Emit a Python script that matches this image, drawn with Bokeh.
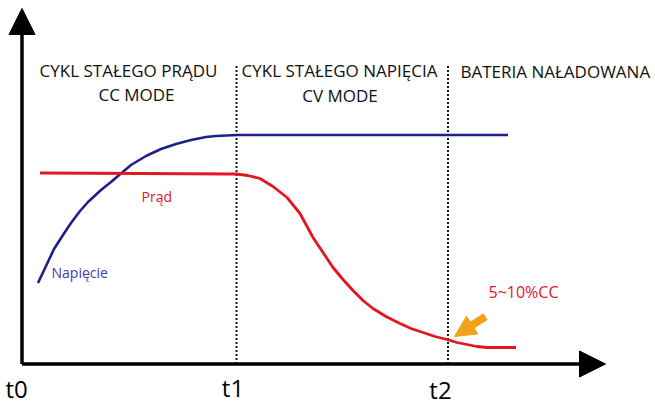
import numpy as np
from bokeh.plotting import figure
from bokeh.models import Range1d, Arrow, NormalHead
from bokeh.core.properties import value
from bokeh.embed import file_html
from bokeh.resources import INLINE

# ---- data (arbitrary units: x = time, y = level) ----
voltage_t = [16, 24, 32, 41, 49, 58, 66, 79, 89, 96, 109, 124, 139, 154, 169, 184, 194, 215, 486]
voltage_v = [81, 98, 115, 129, 141, 153, 162, 174, 182, 188, 199, 208, 215, 220, 224, 227, 228, 229, 229]

current_t = [18, 120, 208, 214, 226, 238, 251, 265, 278, 291, 301, 311, 321, 331, 341, 351,
             364, 378, 389, 401, 413, 425, 435, 445, 455, 465, 478, 494]
current_i = [191, 190.5, 190, 190, 188.5, 185.5, 177.5, 166.5, 150.5, 126.5, 111.5, 96.5, 84.5, 73.5,
             63.5, 55.5, 47.5, 40.5, 35.5, 31.5, 27.5, 24.5, 21.5, 19.5, 17.5, 16.5, 16.5, 16.5]

phase_t = [214.5, 426]          # t1, t2
phase_top = 300

x_axis_end = 583.5
y_axis_end = 355.5

tick_labels = ["t0", "t1", "t2"]
tick_t = [-16.5, 211, 418.5]
tick_y = [-24.5, -23.5, -25.5]

headers = ["CYKL STAŁEGO PRĄDU", "CC MODE", "CYKL STAŁEGO NAPIĘCIA", "CV MODE"]
header_x = [106.5, 114.5, 317.5, 318]
header_y = [293.5, 269.5, 293.5, 268.5]
done_label = "BATERIA NAŁADOWANA"

marker_from = (463.5, 47.5)
marker_to = (432.5, 27.5)

RED = "#e3151f"
BLUE = "#1f1f8c"
ORANGE = "#f4a11a"
FONT = "Open Sans"

p = figure(width=655, height=405, x_range=Range1d(-21.5, 633.5), y_range=Range1d(-41.5, 363.5),
           output_backend="svg", toolbar_location=None, min_border=0,
           x_axis_type=None, y_axis_type=None)
p.outline_line_color = None
p.xgrid.visible = False
p.ygrid.visible = False
p.background_fill_color = "white"
p.border_fill_color = "white"

# phase separators
for t in phase_t:
    p.line([t, t], [0, phase_top], line_color="#1a1a1a", line_width=2, line_dash="2 2")

# curves
p.line(voltage_t, voltage_v, line_color=BLUE, line_width=2.6)
p.line(current_t, current_i, line_color=RED, line_width=2.8)

# axes with arrow heads
p.add_layout(Arrow(end=NormalHead(size=26, fill_color="black", line_color="black"),
                   x_start=0, y_start=0, x_end=x_axis_end, y_end=0,
                   line_width=3.5, line_color="black"))
p.add_layout(Arrow(end=NormalHead(size=26, fill_color="black", line_color="black"),
                   x_start=0, y_start=0, x_end=0, y_end=y_axis_end,
                   line_width=3.5, line_color="black"))

# orange pointer
p.add_layout(Arrow(end=NormalHead(size=21, fill_color=ORANGE, line_color=ORANGE),
                   x_start=marker_from[0], y_start=marker_from[1],
                   x_end=marker_to[0], y_end=marker_to[1],
                   line_width=8, line_color=ORANGE))

# headers
p.text(header_x, header_y, text=headers, text_align="center", text_baseline="alphabetic",
       text_font=value(FONT), text_font_size="17px", text_color="#111111")
p.text([438.5], [292.5], text=[done_label], text_align="left", text_baseline="alphabetic",
       text_font=value(FONT), text_font_size="17px", text_color="#111111")

# curve labels
p.text([119.5], [167.5], text=["Prąd"], text_baseline="alphabetic",
       text_font=value(FONT), text_font_size="14px", text_color=RED)
p.text([29.5], [91.5], text=["Napięcie"], text_baseline="alphabetic",
       text_font=value(FONT), text_font_size="14px", text_color="#3b3bb0")
p.text([466.5], [72.5], text=["5~10%CC"], text_baseline="alphabetic",
       text_font=value(FONT), text_font_size="16px", text_color=RED)

# time labels
p.text([tick_t[0]], [tick_y[0]], text=[tick_labels[0]], text_align="left", text_baseline="alphabetic",
       text_font=value(FONT), text_font_size="24px", text_color="black")
p.text(tick_t[1:], tick_y[1:], text=tick_labels[1:], text_align="center", text_baseline="alphabetic",
       text_font=value(FONT), text_font_size="24px", text_color="black")

open("out.html", "w").write(file_html(p, INLINE))
